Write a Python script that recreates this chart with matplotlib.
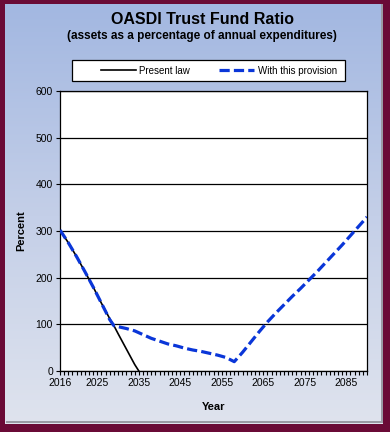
import numpy as np
import matplotlib
matplotlib.use("Agg")
import matplotlib.pyplot as plt
from matplotlib.patches import Rectangle
from matplotlib.colors import LinearSegmentedColormap

plt.rcParams['font.family'] = ['Liberation Sans', 'DejaVu Sans']

# data
years_law = [2016, 2018, 2020, 2022, 2024, 2026, 2028, 2029, 2030, 2032, 2034, 2035]
ratio_law = [302, 275, 245, 213, 180, 145, 112, 97, 80, 47, 14, 0]

years_prov = [2016, 2018, 2020, 2022, 2024, 2026, 2028, 2029, 2030, 2032, 2034,
              2036, 2038, 2040, 2042, 2044, 2046, 2048, 2050, 2052, 2054, 2056,
              2058, 2060, 2062, 2064, 2066, 2068, 2070, 2072, 2074, 2076, 2078,
              2080, 2082, 2084, 2086, 2088, 2090]
ratio_prov = [302, 275, 245, 213, 180, 145, 110, 97, 95, 91, 86,
              78, 70, 64, 58, 54, 49, 45, 42, 38, 34, 29,
              20, 40, 62, 84, 105, 124, 142, 160, 177, 195, 213,
              232, 251, 270, 290, 310, 330]

xtick_years = [2016, 2025, 2035, 2045, 2055, 2065, 2075, 2085]
ytick_vals = [0, 100, 200, 300, 400, 500, 600]

fig = plt.figure(figsize=(3.9, 4.32), dpi=100)
W, H = 390.0, 432.0

# background gradient
bg = fig.add_axes([0, 0, 1, 1], zorder=-10)
grad = np.linspace(0, 1, 256).reshape(-1, 1)
cm = LinearSegmentedColormap.from_list('bg', ['#a2b7e1', '#c4cfe8', '#e0e4ee'])
bg.imshow(grad, aspect='auto', cmap=cm, extent=[0, 1, 0, 1], origin='upper')
bg.set_xlim(0, 1)
bg.set_ylim(0, 1)
bg.axis('off')
# maroon frame
maroon = '#6a0a36'
bg.add_patch(Rectangle((0, 0), 5 / W, 1, color=maroon, lw=0))
bg.add_patch(Rectangle((0, 1 - 4 / H), 1, 4 / H, color=maroon, lw=0))
bg.add_patch(Rectangle((1 - 7 / W, 0), 7 / W, 1, color=maroon, lw=0))
bg.add_patch(Rectangle((0, 0), 1, 8 / H, color=maroon, lw=0))
# inner bevel
bg.add_patch(Rectangle((6 / W, 9 / H), 1 - 14 / W, 2 / H, color='#9a9aa4', lw=0))
bg.add_patch(Rectangle((1 - 9 / W, 9 / H), 2 / W, 1 - 13 / H, color='#9a9aa4', lw=0))
# legend box
bg.add_patch(Rectangle((72 / W, 1 - 81 / H), 273 / W, 21 / H, facecolor='white',
                       edgecolor='black', lw=0.9))

ax = fig.add_axes([60 / W, 1 - 371 / H, 307 / W, 280 / H])
ax.set_facecolor('white')
ax.plot(years_law, ratio_law, color='black', lw=1.2, label='Present law', zorder=3)
ax.plot(years_prov, ratio_prov, color='#0a36d8', lw=2.3, ls=(0, (3.2, 1.3)),
        label='With this provision', zorder=4)

ax.set_xlim(2016, 2090)
ax.set_ylim(0, 600)
ax.set_xticks(xtick_years)
ax.set_xticks(np.arange(2016, 2091), minor=True)
ax.set_yticks(ytick_vals)
ax.yaxis.grid(True, color='black', lw=0.9)
ax.set_axisbelow(True)
ax.tick_params(axis='both', which='major', direction='out', length=3, width=0.8,
               labelsize=7.5, pad=2)
ax.tick_params(axis='x', which='minor', direction='out', length=3, width=0.8)
for s in ax.spines.values():
    s.set_linewidth(0.9)
ax.set_xlabel('Year', fontsize=8, fontweight='bold', labelpad=10)
ax.set_ylabel('Percent', fontsize=8, fontweight='bold', labelpad=7)

fig.text(202 / W, 1 - 19 / H, 'OASDI Trust Fund Ratio', ha='center', va='center',
         fontsize=11.5, fontweight='bold')
fig.text(202 / W, 1 - 36 / H, '(assets as a percentage of annual expenditures)',
         ha='center', va='center', fontsize=8.5, fontweight='bold')

leg = fig.legend(loc='center', ncol=2, bbox_to_anchor=(219 / W, 1 - 70.5 / H),
                 fontsize=7, frameon=False, handlelength=3.6, handletextpad=0.4,
                 columnspacing=3.0, borderpad=0)

fig.savefig('out.png', dpi=100)
